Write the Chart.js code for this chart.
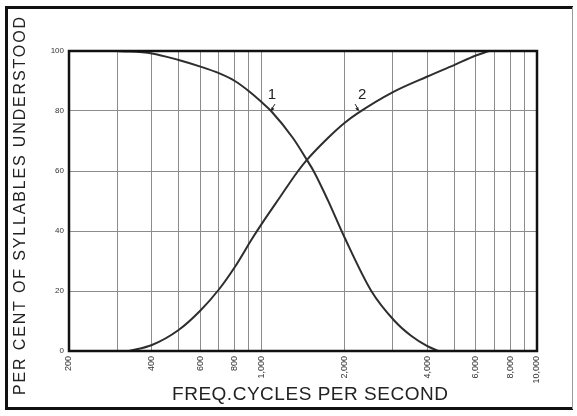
<!DOCTYPE html>
<html>
<head>
<meta charset="utf-8">
<script src="https://cdn.jsdelivr.net/npm/chart.js@4.4.1/dist/chart.umd.min.js"></script>
<style>
  html, body { margin: 0; padding: 0; background: #fff; }
  #wrap { width: 577px; height: 416px; position: relative; }
</style>
</head>
<body>
<div id="wrap"><canvas id="c" width="577" height="416"></canvas></div>
<script>
// Frequency grid (cycles per second) and which of those lines carry a label
const gridFreqs = [200, 300, 400, 500, 600, 700, 800, 900, 1000,
                   2000, 3000, 4000, 5000, 6000, 7000, 8000, 9000, 10000];
const labelFreqs = [200, 400, 600, 800, 1000, 2000, 4000, 6000, 8000, 10000];
const pctTicks = [0, 20, 40, 60, 80, 100];

// Curve 1: frequencies above the cutoff removed
const curve1Freq = [300, 400, 500, 600, 700, 800, 900, 1000, 1083, 1300, 1461, 1545, 1742, 2000, 2503, 3042, 3500, 3969, 4375];
const curve1Pct  = [100, 99.2, 97, 94.8, 92.6, 90, 86.6, 83, 80, 71, 63.7, 60, 50.2, 37.9, 20, 10, 5, 1.8, 0];

// Curve 2: frequencies below the cutoff removed
const curve2Freq = [330, 400, 500, 600, 700, 800, 925, 1000, 1171, 1345, 1461, 1742, 2000, 2230, 3000, 4000, 5000, 6000, 6700];
const curve2Pct  = [0, 2, 7, 13.5, 20.5, 28, 37.5, 42.3, 51.5, 59.5, 63.7, 71, 76, 79.2, 86.3, 91.5, 95.3, 98.5, 100];

// Curve numbers and the points their pointers touch
const curveNames = ['1', '2'];
const nameFreq = [1091, 2318];
const namePct = [85.3, 85.3];
const pointerFreq = [1083, 2250];
const pointerPct = [80, 80];

const xTitle = 'FREQ.CYCLES PER SECOND';
const yTitle = 'PER CENT OF SYLLABLES UNDERSTOOD';

const INK = '#222';
const FONT = "'Liberation Sans', Arial, sans-serif";

function toPoints(xs, ys) { return xs.map((x, i) => ({ x: x, y: ys[i] })); }

function spacedText(ctx, text, x, y, targetWidth) {
  ctx.letterSpacing = '0px';
  const w = ctx.measureText(text).width;
  const ls = Math.max(0, (targetWidth - w) / (text.length - 1));
  ctx.letterSpacing = ls + 'px';
  ctx.fillText(text, x + ls / 2, y);
  ctx.letterSpacing = '0px';
}

const decor = {
  id: 'decor',
  beforeDraw(chart) {
    const ctx = chart.ctx;
    ctx.save();
    ctx.fillStyle = '#fff';
    ctx.fillRect(0, 0, chart.width, chart.height);
    ctx.restore();
  },
  afterDraw(chart) {
    const ctx = chart.ctx;
    const a = chart.chartArea;
    const xs = chart.scales.x, ys = chart.scales.y;
    ctx.save();

    // plot frame
    ctx.strokeStyle = '#111';
    ctx.lineWidth = 2.5;
    ctx.strokeRect(a.left, a.top, a.right - a.left, a.bottom - a.top);

    // outer frame
    ctx.lineWidth = 3;
    ctx.beginPath();
    ctx.moveTo(6.5, 7.5); ctx.lineTo(573, 7.5);
    ctx.moveTo(6.5, 6); ctx.lineTo(6.5, 410);
    ctx.moveTo(5, 408.5); ctx.lineTo(573, 408.5);
    ctx.stroke();
    ctx.strokeStyle = '#999';
    ctx.lineWidth = 1;
    ctx.beginPath();
    ctx.moveTo(572.5, 7); ctx.lineTo(572.5, 409);
    ctx.stroke();

    // curve numbers with small pointers
    ctx.fillStyle = INK;
    ctx.strokeStyle = INK;
    ctx.font = '15px ' + FONT;
    ctx.textAlign = 'center';
    ctx.textBaseline = 'middle';
    curveNames.forEach((n, i) => {
      const lx = xs.getPixelForValue(nameFreq[i]);
      const ly = ys.getPixelForValue(namePct[i]);
      ctx.fillText(n, lx, ly);
      const px = xs.getPixelForValue(pointerFreq[i]);
      const py = ys.getPixelForValue(pointerPct[i]);
      const sx = lx + (i === 0 ? 3 : -7), sy = ly + 9;
      ctx.lineWidth = 1;
      ctx.beginPath();
      ctx.moveTo(sx, sy); ctx.lineTo(px, py - 1);
      ctx.stroke();
      const ang = Math.atan2(py - 1 - sy, px - sx);
      ctx.beginPath();
      ctx.moveTo(px, py);
      ctx.lineTo(px - 4 * Math.cos(ang - 0.45), py - 4 * Math.sin(ang - 0.45));
      ctx.lineTo(px - 4 * Math.cos(ang + 0.45), py - 4 * Math.sin(ang + 0.45));
      ctx.closePath();
      ctx.fill();
    });

    // axis titles
    ctx.fillStyle = INK;
    ctx.textAlign = 'center';
    ctx.textBaseline = 'middle';
    ctx.font = '19px ' + FONT;
    spacedText(ctx, xTitle, 310, 395, 276);

    ctx.translate(21, 206);
    ctx.rotate(-Math.PI / 2);
    ctx.font = '16px ' + FONT;
    spacedText(ctx, yTitle, 0, 0, 378);
    ctx.restore();
  }
};

new Chart(document.getElementById('c'), {
  type: 'scatter',
  data: {
    datasets: [
      { data: toPoints(curve1Freq, curve1Pct) },
      { data: toPoints(curve2Freq, curve2Pct) }
    ]
  },
  options: {
    responsive: false,
    animation: false,
    devicePixelRatio: 1,
    showLine: true,
    layout: { padding: { top: 51, right: 40, bottom: 0, left: 0 } },
    elements: {
      point: { radius: 0, hoverRadius: 0 },
      line: { borderColor: '#2e2e2e', borderWidth: 2, cubicInterpolationMode: 'monotone' }
    },
    plugins: { legend: { display: false }, tooltip: { enabled: false } },
    scales: {
      x: {
        type: 'logarithmic',
        min: 200,
        max: 10000,
        afterBuildTicks(s) { s.ticks = gridFreqs.map(v => ({ value: v })); },
        afterFit(s) { s.height = 65; },
        ticks: {
          autoSkip: false,
          minRotation: 90,
          maxRotation: 90,
          padding: 5,
          color: '#333',
          font: { size: 9, family: FONT },
          callback: v => labelFreqs.includes(v) ? v.toLocaleString('en-US') : ''
        },
        grid: { color: '#8c8c8c', lineWidth: 1, drawTicks: false },
        border: { display: false }
      },
      y: {
        min: 0,
        max: 100,
        afterBuildTicks(s) { s.ticks = pctTicks.map(v => ({ value: v })); },
        afterFit(s) { s.width = 69; },
        ticks: {
          padding: 5,
          color: '#333',
          font: { size: 8, family: FONT }
        },
        grid: { color: '#8c8c8c', lineWidth: 1, drawTicks: false },
        border: { display: false }
      }
    }
  },
  plugins: [decor]
});
</script>
</body>
</html>
